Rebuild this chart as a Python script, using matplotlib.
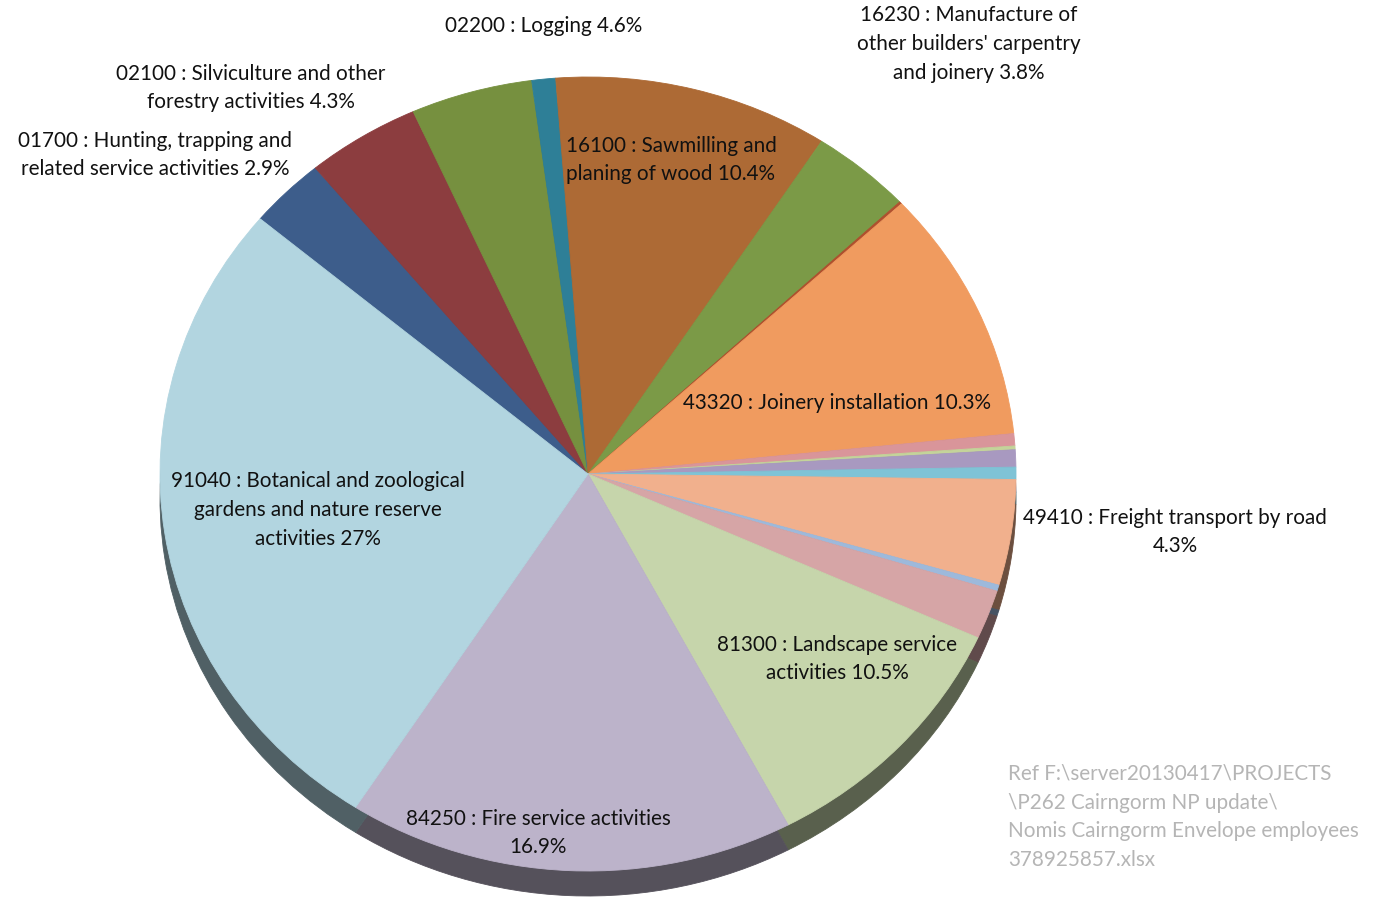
import numpy as np
import matplotlib
matplotlib.use("Agg")
import matplotlib.pyplot as plt
from matplotlib.colors import to_rgb

plt.rcParams['font.family'] = ['Lato', 'DejaVu Sans']

# share of employees by SIC code (percent), clockwise from the 01700 slice
shares = [2.9, 4.3, 4.6, 0.9, 10.4, 3.8, 0.1, 10.3, 0.5, 0.15, 0.7, 0.5,
          4.3, 0.25, 2.0, 10.5, 16.9, 27.0]
colors = ["#3d5d8b", "#8c3d3f", "#76903f", "#2e7f97", "#ad6a35", "#7b9a47",
          "#b0502e", "#f09b5f", "#d9959a", "#c4d39a", "#a899c0", "#7fc3d6",
          "#f1b08d", "#9db9db", "#d6a5a6", "#c6d5ab", "#bcb3ca", "#b2d5e0"]

labels = [
    "02200 : Logging 4.6%",
    "02100 : Silviculture and other\nforestry activities 4.3%",
    "01700 : Hunting, trapping and\nrelated service activities 2.9%",
    "16100 : Sawmilling and\nplaning of wood 10.4%",
    "16230 : Manufacture of\nother builders' carpentry\nand joinery 3.8%",
    "43320 : Joinery installation 10.3%",
    "49410 : Freight transport by road\n4.3%",
    "81300 : Landscape service\nactivities 10.5%",
    "84250 : Fire service activities\n16.9%",
    "91040 : Botanical and zoological\ngardens and nature reserve\nactivities 27%",
]
label_pos = [(544, 26), (251, 88), (155, 155), (671, 160), (969, 44),
             (837, 403), (1175, 532), (837, 659), (538, 833), (318, 510)]

note = ("Ref F:\\server20130417\\PROJECTS\n\\P262 Cairngorm NP update\\\n"
        "Nomis Cairngorm Envelope employees\n378925857.xlsx")

W, H = 1375, 902
fig = plt.figure(figsize=(W / 100, H / 100), dpi=100)
ax = fig.add_axes([0, 0, 1, 1])

# pie geometry in pixels (tilted -> ellipse)
cx, cy, rx, ry, depth = 588, 474, 428, 397, 25

def darker(c, f=0.45):
    r, g, b = to_rgb(c)
    return (r * f, g * f, b * f)

side, _ = ax.pie(shares, colors=[darker(c) for c in colors], startangle=140,
                 counterclock=False, center=(0, -depth / ry), radius=1,
                 wedgeprops=dict(linewidth=0))
top, _ = ax.pie(shares, colors=colors, startangle=140, counterclock=False,
                center=(0, 0), radius=1, wedgeprops=dict(linewidth=0))
for w in side + top:
    w.set_edgecolor(w.get_facecolor())
    w.set_linewidth(0.6)

ax.set_xlim(-cx / rx, (W - cx) / rx)
ax.set_ylim(-(H - cy) / ry, cy / ry)
ax.set_aspect('auto')
ax.axis('off')

for txt, (x, y) in zip(labels, label_pos):
    fig.text(x / W, 1 - y / H, txt, ha='center', va='center', fontsize=14.9,
             color='#111111', linespacing=1.55)

fig.text(1008 / W, 1 - 817 / H, note, ha='left', va='center', fontsize=14.9,
         color='#b5b5b5', linespacing=1.55)

fig.savefig("out.png", dpi=100)
